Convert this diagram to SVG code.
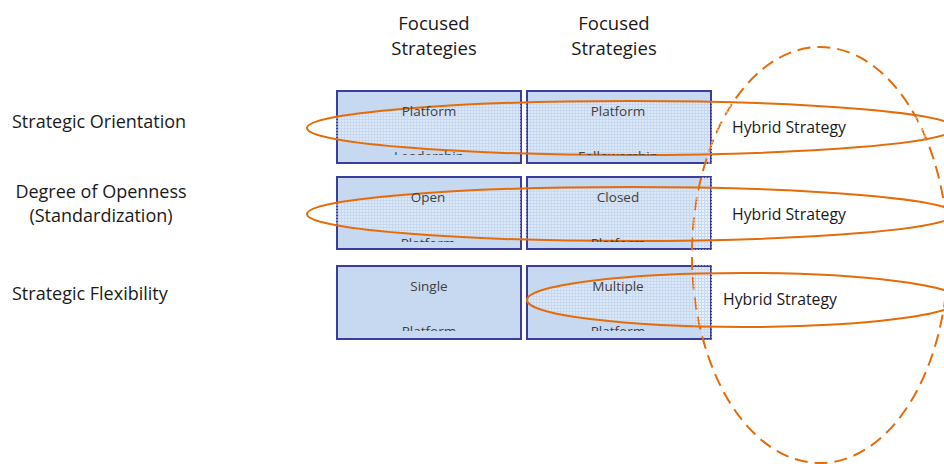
<svg xmlns="http://www.w3.org/2000/svg" width="944" height="464" viewBox="0 0 944 464">
  <style>
    .label { font-family: "Open Sans", "Liberation Sans", sans-serif; font-size: 18px; fill: #1a1a1a; }
    .head { font-family: "Open Sans", "Liberation Sans", sans-serif; font-size: 18.5px; fill: #1a1a1a; text-anchor: middle; }
    .box { fill: #c6d9f0; stroke: #3c3c9c; stroke-width: 2; }
    .btext { font-family: "Open Sans", "Liberation Sans", sans-serif; font-size: 13.5px; fill: #404040; text-anchor: middle; }
    .hyb { font-family: "Open Sans", "Liberation Sans", sans-serif; font-size: 15.8px; fill: #1a1a1a; }
    .ring { fill: url(#dots); stroke: #e46c0a; stroke-width: 2; }
    .ring-dash { fill: url(#dots); stroke: #e46c0a; stroke-width: 2; stroke-dasharray: 13 7; }
  </style>
  <defs>
    <pattern id="dots" width="3" height="3" patternUnits="userSpaceOnUse">
      <rect x="0" y="0" width="2" height="2" fill="#ffffff" fill-opacity="0.4"/>
    </pattern>
    <clipPath id="c1"><rect x="337" y="91" width="374" height="64"/></clipPath>
    <clipPath id="c2"><rect x="337" y="177" width="374" height="65"/></clipPath>
    <clipPath id="c3"><rect x="337" y="266" width="374" height="65"/></clipPath>
  </defs>

  <!-- column headings -->
  <g id="head-1">
    <text class="head" x="434" y="30">Focused</text>
    <text class="head" x="434" y="55">Strategies</text>
  </g>
  <g id="head-2">
    <text class="head" x="614" y="30">Focused</text>
    <text class="head" x="614" y="55">Strategies</text>
  </g>

  <!-- row labels -->
  <g id="row-orientation"><text class="label" x="12" y="128">Strategic Orientation</text></g>
  <g id="row-openness">
    <text class="label" x="101" y="198" text-anchor="middle">Degree of Openness</text>
    <text class="label" x="101" y="222" text-anchor="middle">(Standardization)</text>
  </g>
  <g id="row-flexibility"><text class="label" x="12" y="300">Strategic Flexibility</text></g>

  <!-- strategy boxes -->
  <g id="box-leadership">
    <rect class="box" x="337" y="91" width="184" height="72"/>
  </g>
  <g id="box-followership">
    <rect class="box" x="527" y="91" width="184" height="72"/>
  </g>
  <g id="box-open">
    <rect class="box" x="337" y="177" width="184" height="72"/>
  </g>
  <g id="box-closed">
    <rect class="box" x="527" y="177" width="184" height="72"/>
  </g>
  <g id="box-single">
    <rect class="box" x="337" y="266" width="184" height="73"/>
  </g>
  <g id="box-multiple">
    <rect class="box" x="527" y="266" width="184" height="73"/>
  </g>

  <!-- hybrid regions -->
  <g id="connectors">
    <ellipse class="ring-dash" cx="820" cy="255" rx="128" ry="208"/>
    <ellipse class="ring" cx="631" cy="128" rx="324" ry="27"/>
    <ellipse class="ring" cx="631" cy="214" rx="324" ry="27"/>
    <ellipse class="ring" cx="743" cy="300" rx="216" ry="27"/>
  </g>

  <!-- box captions -->
  <g id="captions">
    <text class="btext" x="429" y="116">Platform</text>
    <text class="btext" x="618" y="116">Platform</text>
    <g clip-path="url(#c1)">
      <text class="btext" x="429" y="160.5">Leadership</text>
      <text class="btext" x="618" y="160.5">Followership</text>
    </g>
    <text class="btext" x="428" y="202">Open</text>
    <text class="btext" x="618" y="202">Closed</text>
    <g clip-path="url(#c2)">
      <text class="btext" x="428" y="248">Platform</text>
      <text class="btext" x="618" y="248">Platform</text>
    </g>
    <text class="btext" x="429" y="291">Single</text>
    <text class="btext" x="618" y="291">Multiple</text>
    <g clip-path="url(#c3)">
      <text class="btext" x="429" y="336.3">Platform</text>
      <text class="btext" x="618" y="336.3">Platform</text>
    </g>
  </g>

  <g id="hybrid-1"><text class="hyb" x="732" y="133">Hybrid Strategy</text></g>
  <g id="hybrid-2"><text class="hyb" x="732" y="220">Hybrid Strategy</text></g>
  <g id="hybrid-3"><text class="hyb" x="723" y="305">Hybrid Strategy</text></g>
</svg>
